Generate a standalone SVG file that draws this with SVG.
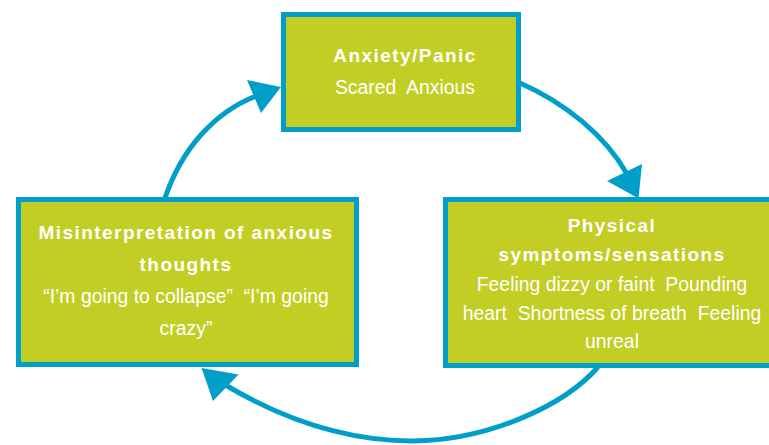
<svg xmlns="http://www.w3.org/2000/svg" width="769" height="445" viewBox="0 0 769 445">
<style>
.box{fill:#C2CE23;stroke:#009FC9;stroke-width:5}
.t{font-family:"Liberation Sans",Arial,sans-serif;font-size:19.4px;fill:#ffffff;text-anchor:middle;white-space:pre}
.b{font-size:19px;font-weight:bold;letter-spacing:1.45px}
.c{fill:none;stroke:#009FC9;stroke-width:5}
.h{fill:#009FC9}
</style>
<rect width="769" height="445" fill="#ffffff"/>
<g id="connectors">
<path class="c" d="M165,198 C182,148 215,112 256,96"/>
<polygon class="h" points="281,87 247,80 261,113"/>
<path class="c" d="M520,83 C565,103 605,135 627,174"/>
<polygon class="h" points="638.5,198.5 607,181 642,164"/>
<path class="c" d="M598,367 C565,405 490,440 413,441 C340,441 275,415 222,383"/>
<polygon class="h" points="201.5,368 213,401 238.5,374.5"/>
</g>
<g id="node-anxiety">
<rect class="box" x="283.5" y="14.5" width="235" height="115"/>
<text class="t b" x="405" y="62">Anxiety/Panic</text>
<text class="t" x="405" y="94">Scared  Anxious</text>
</g>
<g id="node-physical">
<rect class="box" x="445.5" y="199.5" width="340" height="166"/>
<text class="t b" x="612" y="232">Physical</text>
<text class="t b" x="612" y="261">symptoms/sensations</text>
<text class="t" x="612" y="291">Feeling dizzy or faint  Pounding</text>
<text class="t" x="612" y="319.5">heart  Shortness of breath  Feeling</text>
<text class="t" x="612" y="348">unreal</text>
</g>
<g id="node-misinterpretation">
<rect class="box" x="18.5" y="199.5" width="338" height="165"/>
<text class="t b" x="186" y="238.5">Misinterpretation of anxious</text>
<text class="t b" x="186" y="270.5">thoughts</text>
<text class="t" x="186" y="303">“I’m going to collapse”  “I’m going</text>
<text class="t" x="186" y="335">crazy”</text>
</g>
</svg>
